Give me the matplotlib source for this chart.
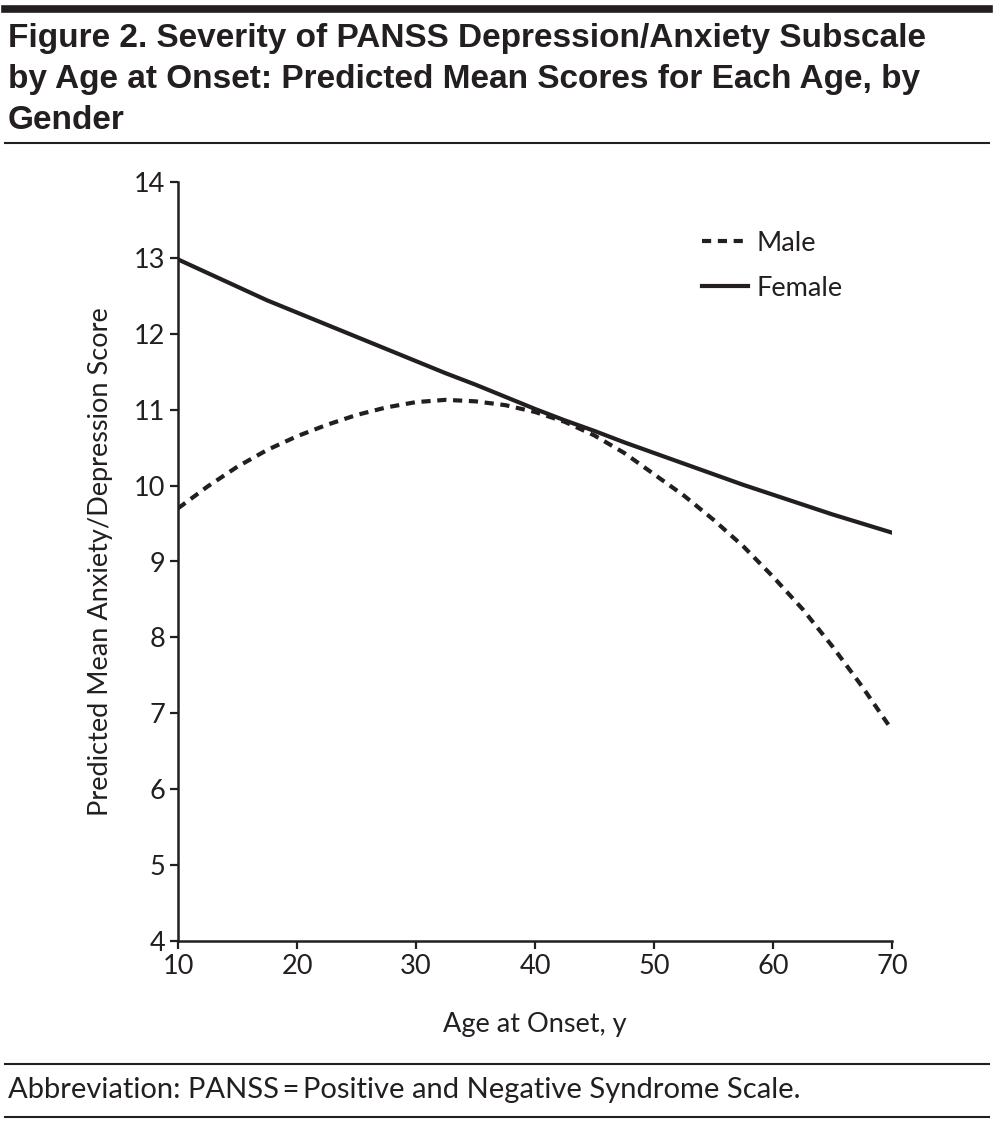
import matplotlib
matplotlib.use('Agg')
import matplotlib.pyplot as plt
from matplotlib.lines import Line2D

# data
ages = [10, 12.5, 15, 17.5, 20, 22.5, 25, 27.5, 30, 32.5, 35, 37.5, 40,
        42.5, 45, 47.5, 50, 52.5, 55, 57.5, 60, 62.5, 65, 67.5, 70]
male = [9.70, 9.99, 10.25, 10.47, 10.65, 10.80, 10.93, 11.03, 11.10, 11.13,
        11.11, 11.06, 10.97, 10.84, 10.66, 10.43, 10.15, 9.87, 9.55, 9.20,
        8.80, 8.37, 7.88, 7.35, 6.78]
female = [12.98, 12.80, 12.62, 12.44, 12.28, 12.12, 11.96, 11.80, 11.64, 11.48,
          11.33, 11.17, 11.01, 10.86, 10.72, 10.57, 10.43, 10.29, 10.15, 10.01,
          9.88, 9.75, 9.62, 9.50, 9.38]
xticks = [10, 20, 30, 40, 50, 60, 70]
yticks = [4, 5, 6, 7, 8, 9, 10, 11, 12, 13, 14]

title = ('Figure 2. Severity of PANSS Depression/Anxiety Subscale\n'
         'by Age at Onset: Predicted Mean Scores for Each Age, by\n'
         'Gender')
footer = 'Abbreviation: PANSS\u2009=\u2009Positive and Negative Syndrome Scale.'

ink = '#231f20'
body = ['Lato', 'DejaVu Sans']
head = ['Liberation Sans', 'DejaVu Sans']

W, H = 994, 1125
fig = plt.figure(figsize=(W/100., H/100.), dpi=100)
ax = fig.add_axes([178./W, 1-941./H, (892-178.)/W, (941-182.)/H])

ax.plot(ages, male, color=ink, lw=3.0, linestyle=(0, (2.2, 1.6)),
        label='Male', dash_capstyle='butt')
ax.plot(ages, female, color=ink, lw=3.0, label='Female')

ax.set_xlim(10, 70)
ax.set_ylim(4, 14)
ax.set_xticks(xticks)
ax.set_yticks(yticks)
for s in ['top', 'right']:
    ax.spines[s].set_visible(False)
for s in ['left', 'bottom']:
    ax.spines[s].set_linewidth(1.8)
    ax.spines[s].set_color(ink)
ax.tick_params(direction='out', length=6, width=1.6, color=ink,
               labelsize=19.5, labelcolor=ink, pad=3)
for lab in ax.get_xticklabels() + ax.get_yticklabels():
    lab.set_family(body)
ax.set_xlabel('Age at Onset, y', fontsize=19.5, family=body, color=ink, labelpad=24)
ax.set_ylabel('Predicted Mean Anxiety/Depression Score', fontsize=19.5,
              family=body, color=ink, labelpad=15)

leg = ax.legend(loc='upper left', bbox_to_anchor=(0.70, 0.968), frameon=False,
                handlelength=1.7, handletextpad=0.3, labelspacing=0.75,
                prop={'family': body, 'size': 19.5})
for t in leg.get_texts():
    t.set_color(ink)

# title and rules
fig.add_artist(Line2D([5./W, 989./W], [1-8.5/H, 1-8.5/H], color=ink, lw=5.5))
fig.text(8./W, 1-23./H, title, ha='left', va='top', fontsize=24,
         fontweight='bold', family=head, color=ink, linespacing=1.42)
fig.add_artist(Line2D([5./W, 989./W], [1-143./H, 1-143./H], color=ink, lw=1.5))
fig.add_artist(Line2D([5./W, 989./W], [1-1064./H, 1-1064./H], color=ink, lw=1.5))
fig.text(8./W, 1-1090./H, footer, ha='left', va='center', fontsize=21,
         family=body, color=ink)
fig.add_artist(Line2D([5./W, 989./W], [1-1117./H, 1-1117./H], color=ink, lw=1.5))

plt.savefig('out.png', dpi=100)
plt.close()
